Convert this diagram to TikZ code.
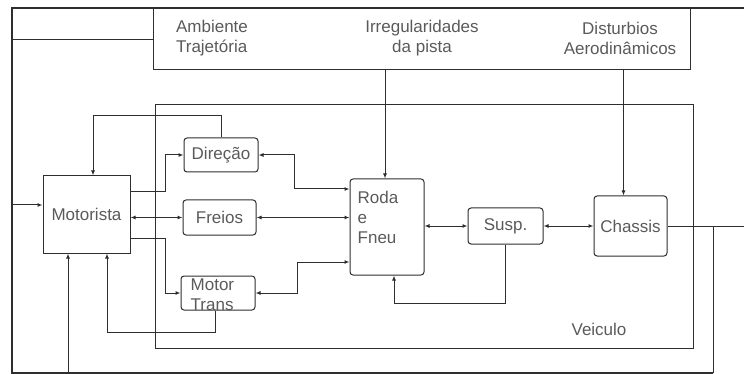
\documentclass[tikz,border=0pt]{standalone}
\usepackage{fontspec}
\setmainfont{Liberation Sans}
\usetikzlibrary{arrows.meta,positioning,calc}
\definecolor{linegray}{HTML}{2E2E2E}
\definecolor{textgray}{HTML}{5A5A5A}

\begin{document}
\begin{tikzpicture}[x=1pt, y=-1pt,
  block/.style={draw=linegray, line width=1pt, rounded corners=3pt, inner sep=0pt, align=center, font=\fontsize{17}{20}\selectfont, text=textgray},
  driver/.style={block, rounded corners=0pt},
  panel/.style={draw=linegray, line width=1pt, inner sep=0pt},
  lbl/.style={inner sep=0pt, align=center, font=\fontsize{17}{20}\selectfont, text=textgray},
  conn/.style={line width=1pt, linegray},
  arr/.style={conn, -{Latex[length=5pt,width=4pt]}},
  darr/.style={conn, {Latex[length=5pt,width=4pt]}-{Latex[length=5pt,width=4pt]}},
  frame/.style={line width=1.6pt, linegray}
]
  \useasboundingbox (0,0) rectangle (744,374);

  % environment and vehicle panels
  \node[panel, minimum width=537pt, minimum height=61pt] (amb) at (421.5,39.5) {};
  \node[panel, minimum width=538pt, minimum height=243pt] (veic) at (424,226.5) {};
  \node[lbl, align=left] (ambtxt) at (212,38) {Ambiente\\Trajetória};
  \node[lbl] (irr) at (422,38) {Irregularidades\\da pista};
  \node[lbl] (aero) at (620,38) {Disturbios\\Aerodinâmicos};
  \node[lbl] (veictxt) at (599,329) {Veiculo};

  % blocks
  \node[driver, minimum width=87pt, minimum height=77pt] (mot) at (86.5,214.5) {Motorista};
  \node[block, minimum width=74pt, minimum height=34pt] (dir) at (221,155) {Direção};
  \node[block, minimum width=73pt, minimum height=35pt] (fre) at (219.5,217.5) {Freios};
  \node[block, minimum width=74pt, minimum height=34pt] (mtr) at (218,293) {};
  \node[lbl, align=left, anchor=north west] (mtrtxt) at ([xshift=10pt,yshift=-3pt]mtr.north west) {Motor\\Trans};
  \node[block, minimum width=74pt, minimum height=96pt] (roda) at (387,227) {};
  \node[lbl, align=left, anchor=north west] (rodatxt) at ([xshift=8pt,yshift=-12pt]roda.north west) {Roda\\e\\Fneu};
  \node[block, minimum width=75pt, minimum height=36pt] (susp) at (505.5,226) {Susp.};
  \node[block, minimum width=73pt, minimum height=60pt] (cha) at (630.5,226) {Chassis};

  \coordinate (tl) at (12,8);
  \coordinate (tr) at (744,8);
  \coordinate (bl) at (12,373);
  \coordinate (br) at (713,373);
  \coordinate (er) at (744,226);
  \coordinate (motin) at ([yshift=9.5pt]mot.west);
  \coordinate (motfb) at ([xshift=-18.5pt]mot.south);
  \coordinate (irrin) at ([xshift=-2pt]roda.north);
  \coordinate (aeroin) at ([xshift=-7pt]cha.north);
  \coordinate (rodadir) at ([yshift=38pt]roda.west);
  \coordinate (rodamtr) at ([yshift=-35pt]roda.west);

  % outer loop
  \draw[frame] (tr) -- (tl) -- (bl) -- (br);
  \draw[conn] (br) -- (br |- er);
  \draw[conn] (cha.east) -- (er);
  \draw[conn] (amb.west -| tl) -- (amb.west);
  \draw[arr] (motin -| tl) -- (motin);
  \draw[arr] (motfb |- bl) -- (motfb);

  % disturbances
  \draw[arr] (irrin |- amb.south) -- (irrin);
  \draw[arr] (aeroin |- amb.south) -- (aeroin);

  % driver
  \draw[arr] (dir.north) -- ++(0,-22) -| ([xshift=6.5pt]mot.north);
  \draw[arr] ([yshift=22.5pt]mot.east) -- ++(35,0) |- (dir.west);
  \draw[darr] (fre.west -| mot.east) -- (fre.west);
  \draw[arr] ([yshift=-23.5pt]mot.east) -- ++(35,0) |- (mtr.west);
  \draw[arr] ([xshift=-3pt]mtr.south) -- ++(0,22) -| ([xshift=20.5pt]mot.south);

  % vehicle
  \draw[darr] (dir.east) -- ++(36,0) |- (rodadir);
  \draw[darr] (fre.east) -- (fre.east -| roda.west);
  \draw[darr] (mtr.east) -- ++(42,0) |- (rodamtr);
  \draw[darr] (susp.west -| roda.east) -- (susp.west);
  \draw[darr] (susp.east) -- (cha.west);
  \draw[arr] (susp.south) -- ++(0,59) -| ([xshift=7pt]roda.south);
\end{tikzpicture}
\end{document}
